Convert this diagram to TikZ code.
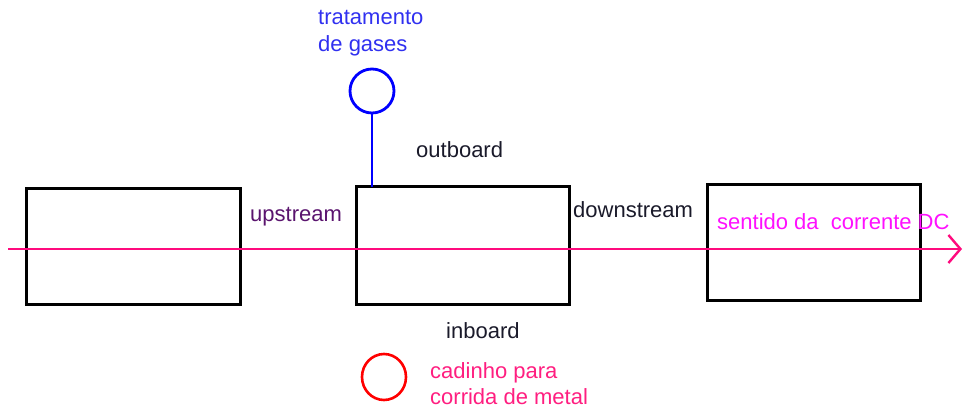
\documentclass[tikz,border=0pt]{standalone}
\usepackage{fontspec}
\setmainfont{Liberation Sans}
\usetikzlibrary{arrows.meta,shapes.geometric}
\definecolor{flow}{HTML}{FF0A7E}
\definecolor{gasblue}{HTML}{0000FF}
\definecolor{gastext}{HTML}{3030F0}
\definecolor{magtext}{HTML}{FF10FF}
\definecolor{cadtext}{HTML}{FF1E80}
\definecolor{labtext}{HTML}{1A1A2A}
\tikzset{
  furnace/.style={draw=black, line width=3pt, fill=none},
  lab/.style={font=\fontsize{22}{26}\selectfont, inner sep=0pt, anchor=base west, text=labtext},
}
\begin{document}
\begin{tikzpicture}[x=1pt,y=-1pt]
\useasboundingbox (0,0) rectangle (963,411);
% boxes
\draw[furnace] (26,189) rectangle (240,305);
\draw[furnace] (356,187) rectangle (569,305);
\coordinate (b2top) at (372,187);
\draw[furnace] (707,185) rectangle (920,301);
% current line
\coordinate (cstart) at (8,249);
\coordinate (cend) at (962,249);
\draw[flow, line width=2.6pt, -{Straight Barb[length=12pt,width=28pt,line width=2.4pt]}] (cstart) -- (cend);
% gas treatment
\node[draw=gasblue, line width=2.8pt, circle, minimum size=44pt, inner sep=0pt] (gas) at (372,91) {};
\draw[gasblue, line width=2.8pt] (gas.south) -- (b2top);
\node[lab, text=gastext] (t1) at (318,25) {tratamento};
\node[lab, text=gastext] (t2) at (318,52) {de gases};
% crucible
\node[draw=red, line width=2.6pt, ellipse, minimum width=44pt, minimum height=46pt, inner sep=0pt] (cad) at (384,377) {};
\node[lab, text=cadtext] (c1) at (430,378) {cadinho para};
\node[lab, text=cadtext] (c2) at (430,404) {corrida de metal};
% labels
\node[lab] (ob) at (416,158) {outboard};
\node[lab] (ib) at (446,338) {inboard};
\node[lab, text={rgb,255:red,90;green,20;blue,110}] (up) at (250,222) {upstream};
\node[lab] (down) at (573,218) {downstream};
\node[lab, text=magtext] (dc) at (717,230) {sentido da\ \ corrente DC};
\end{tikzpicture}
\end{document}
